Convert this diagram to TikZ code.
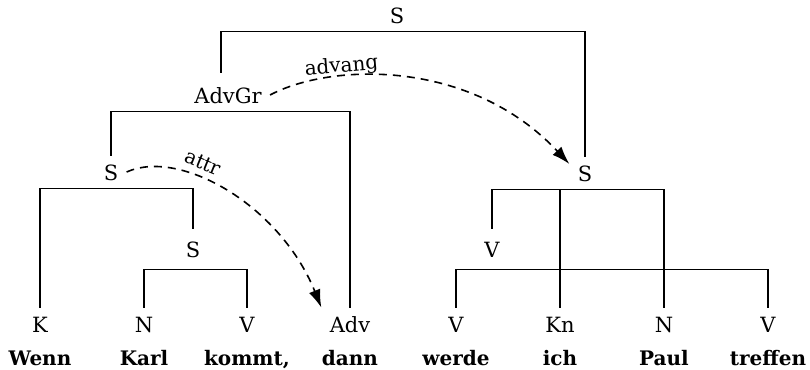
\documentclass[tikz,border=0pt]{standalone}
\usepackage{fontspec}
\setmainfont{DejaVu Serif}
\usetikzlibrary{positioning,arrows.meta}

\begin{document}
\begin{tikzpicture}[
  x=0.5pt,y=-0.5pt,
  cat/.style={anchor=base,inner sep=4pt,text height=8pt,text depth=0pt,font=\fontsize{10.5}{12}\selectfont},
  mid/.style={cat,inner sep=6pt},
  word/.style={anchor=base,inner sep=0pt,font=\fontsize{10}{12}\selectfont\bfseries},
  edge/.style={line width=0.9pt},
  rel/.style={dash pattern=on 4pt off 3pt,line width=0.8pt,-{Latex[length=9pt,width=6pt]}},
  lab/.style={font=\fontsize{10}{12}\selectfont,sloped,above=1.5pt,inner sep=0pt,text depth=0pt}
]
\useasboundingbox (0,0) rectangle (810,370);
% leaves: category and word
\foreach \x/\c/\w/\n in {40/K/Wenn/k, 144/N/Karl/n1, 247/V/{kommt,}/v1, 350/Adv/dann/adv,
  456/V/werde/v2, 560/Kn/ich/kn, 664/N/Paul/n2, 768/V/treffen/v3} {
  \node[cat] (\n) at (\x,332) {\c};
  \node[word] (w-\n) at (\x,365) {\w};
}
% inner nodes
\node[cat] (stop) at (397,23) {S};
\node[cat] (advgr) at (228,103) {AdvGr};
\node[cat] (sl) at (111,180) {S};
\node[mid] (sm) at (193,257) {S};
\node[cat] (sr) at (585,181) {S};
\node[mid] (vg) at (492,257) {V};
% branches
\draw[edge] ([xshift=-3.5pt,yshift=3pt]advgr.north) |- (stop.south) -| (sr.north);
\draw[edge] (sl.north) |- (advgr.south) -| (adv.north);
\draw[edge] (k.north) |- (sl.south) -| (sm.north);
\draw[edge] (n1.north) |- (sm.south) -| (v1.north);
\draw[edge] (vg.north) |- (sr.south) -| (n2.north);
\draw[edge] (kn.north) |- (sr.south);
\draw[edge] (v2.north) |- (vg.south) -| (v3.north);
% relations
\draw[rel] (advgr.east) .. controls (330,63) and (470,58) .. (sr.150)
  node[lab,pos=0.3] {advang};
\draw[rel] (sl.east) .. controls (180,148) and (280,205) .. (adv.north west)
  node[lab,above=3.5pt,pos=0.36] {attr};
\end{tikzpicture}
\end{document}
